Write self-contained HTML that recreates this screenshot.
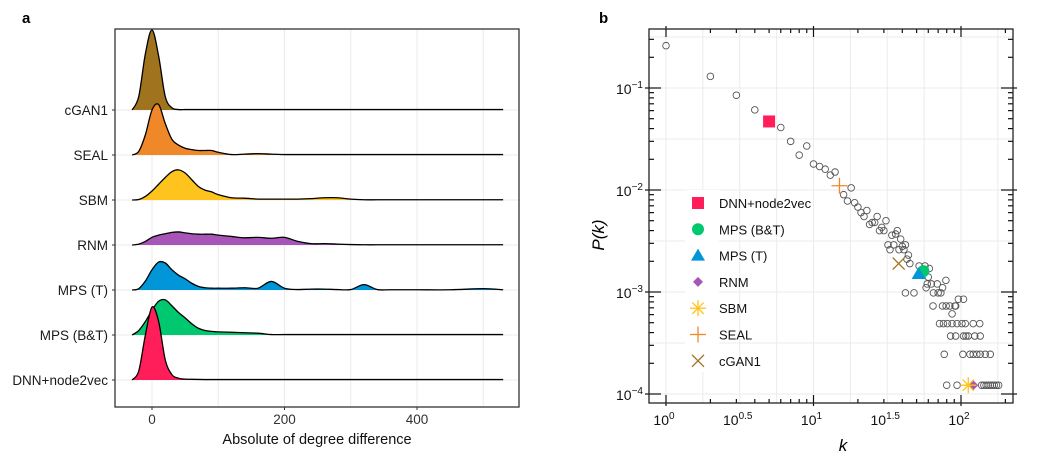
<!DOCTYPE html>
<html><head><meta charset="utf-8"><style>
html,body{margin:0;padding:0;background:#fff;width:1060px;height:460px;overflow:hidden}
svg text{font-family:"Liberation Sans",sans-serif}
</style></head><body>
<svg id="s" width="1060" height="460" xmlns="http://www.w3.org/2000/svg"></svg>
<script>
// ---------- Panel a data ----------
const ridgeNames = ["cGAN1","SEAL","SBM","RNM","MPS (T)","MPS (B&T)","DNN+node2vec"];
const ridgeColors = ["#a0731e","#f0882a","#ffc31e","#a855b8","#0096d8","#00c86e","#ff1e5a"];
const gridX = [-30,-20,-10,0,10,20,30,40,50,60,70,80,90,100,120,140,160,180,200,220,240,260,280,300,320,340,360,400,450,500,530];
const dCGAN1 = [0,0.3,1.25,1.78,1.2,0.3,0.05,0.01,0.01,0.01,0.01,0.01,0.01,0.01,0.01,0.01,0.01,0.01,0.01,0.01,0.01,0.01,0.01,0.01,0.01,0.01,0.01,0.01,0.01,0.01,0.01];
const dSEAL = [0,0.08,0.45,1.0,1.12,0.7,0.35,0.22,0.15,0.12,0.1,0.1,0.1,0.06,0.01,0.02,0.03,0.02,0.01,0.01,0.01,0.01,0.01,0.01,0.01,0.01,0.01,0.01,0.01,0.01,0.01];
const dSBM = [0,0.01,0.08,0.2,0.35,0.5,0.63,0.67,0.6,0.45,0.3,0.22,0.18,0.12,0.05,0.04,0.02,0.02,0.02,0.02,0.03,0.05,0.05,0.02,0.005,0.005,0.005,0.005,0.005,0.005,0.005];
const dRNM = [0,0.02,0.08,0.17,0.22,0.25,0.28,0.29,0.27,0.25,0.24,0.24,0.24,0.22,0.19,0.16,0.17,0.15,0.17,0.08,0.03,0.03,0.02,0.01,0.005,0.005,0.005,0.005,0.005,0.005,0.005];
const dMPST = [0,0.03,0.2,0.45,0.62,0.6,0.45,0.33,0.25,0.15,0.08,0.05,0.04,0.04,0.04,0.05,0.04,0.19,0.04,0.01,0.02,0.02,0.01,0.01,0.12,0.01,0.005,0.005,0.005,0.03,0.005];
const dMPSBT = [0,0.1,0.3,0.55,0.75,0.78,0.65,0.5,0.38,0.25,0.15,0.1,0.08,0.07,0.06,0.05,0.04,0.01,0.01,0.01,0.01,0.01,0.01,0.01,0.01,0.01,0.01,0.01,0.01,0.01,0.01];
const dDNN = [0,0.2,1.0,1.62,1.3,0.45,0.12,0.04,0.02,0.015,0.012,0.01,0.01,0.01,0.01,0.01,0.01,0.01,0.01,0.01,0.01,0.01,0.01,0.01,0.01,0.01,0.01,0.01,0.01,0.01,0.01];
const ridgeData = [dCGAN1,dSEAL,dSBM,dRNM,dMPST,dMPSBT,dDNN];
const xTicksA = [0,200,400];
const xGridA = [0,100,200,300,400,500];

// ---------- Panel b data ----------
const kVals = [1,2,3,4,6,7,8,9,10,11,12,13,14,16,17,18,19,20,21,22,23,24,25,26,27,28,29,30,31,32,33,34,35,36,37,38,39,40,41,42,43,44,45,42,48,52,57,61,59,63,69,75,58,60,65,70,73,79,96,104,64.6,74.9,79.3,84,91,92,87,71.5,76,80.9,87,94,101.5,107,121,134,85,92,104,108,112,124,135,77,103,115,121,128,135,146,158,80,94,138,143,148,153,158,163,168,174,180];
const pVals = [0.26,0.13,0.085,0.061,0.041,0.030,0.022,0.027,0.018,0.017,0.016,0.014,0.015,0.009,0.0078,0.0105,0.0075,0.0068,0.006,0.0055,0.0063,0.0046,0.0048,0.0048,0.0055,0.004,0.0043,0.004,0.005,0.0029,0.0026,0.0036,0.0029,0.0037,0.004,0.0026,0.0033,0.0028,0.0026,0.0029,0.0021,0.0023,0.0019,0.00098,0.00098,0.0018,0.0018,0.0017,0.0012,0.0012,0.0012,0.0011,0.0011,0.0014,0.00098,0.00098,0.00098,0.0013,0.00085,0.00085,0.00073,0.00073,0.00073,0.00073,0.00073,0.00073,0.00061,0.00049,0.00049,0.00049,0.00049,0.00049,0.00049,0.00049,0.00049,0.00049,0.00037,0.00037,0.00037,0.00037,0.00037,0.00037,0.00037,0.000245,0.000245,0.000245,0.000245,0.000245,0.000245,0.000245,0.000245,0.000122,0.000122,0.000122,0.000122,0.000122,0.000122,0.000122,0.000122,0.000122,0.000122,0.000122];
const markNames = ["DNN+node2vec","MPS (B&T)","MPS (T)","RNM","SBM","SEAL","cGAN1"];
const markK = [5,55.6,51.6,121,112,15,37.8];
const markP = [0.047,0.0016,0.0015,0.000122,0.000122,0.011,0.0019];

const NS="http://www.w3.org/2000/svg";
const svg=document.getElementById('s');
function mk(tag,attrs,parent){const e=document.createElementNS(NS,tag);for(const k in attrs)e.setAttribute(k,attrs[k]);(parent||svg).appendChild(e);return e;}

// ===== Panel A =====
const ax={l:115,r:519,t:29,b:407};
const xA=v=>152+v*(132.5/200);
const baseY=i=>110+i*45;
const hA=v=>v*45;
const gA=mk('g',{});


for(const v of xGridA){const l=mk('line',{x1:xA(v),x2:xA(v),y1:ax.t,y2:ax.b,stroke:'#ebebeb','stroke-width':1},gA);
}
ridgeNames.forEach((n,i)=>{const l=mk('line',{x1:ax.l,x2:ax.r,y1:baseY(i),y2:baseY(i),stroke:'#ebebeb','stroke-width':1},gA);
});
function smooth(pts){let d=`M${pts[0][0]},${pts[0][1]}`;for(let i=0;i<pts.length-1;i++){const p0=pts[Math.max(0,i-1)],p1=pts[i],p2=pts[i+1],p3=pts[Math.min(pts.length-1,i+2)];
const c1x=p1[0]+(p2[0]-p0[0])/6,c1y=p1[1]+(p2[1]-p0[1])/6,c2x=p2[0]-(p3[0]-p1[0])/6,c2y=p2[1]-(p3[1]-p1[1])/6;
d+=` C${c1x.toFixed(2)},${c1y.toFixed(2)} ${c2x.toFixed(2)},${c2y.toFixed(2)} ${p2[0].toFixed(2)},${p2[1].toFixed(2)}`;}return d;}
ridgeNames.forEach((n,i)=>{
  const b=baseY(i);
  const pts=gridX.map((x,j)=>[xA(x),Math.min(b,b-hA(ridgeData[i][j]))]);
  const d=smooth(pts);
  const f=mk('path',{d:d+` L${xA(gridX[gridX.length-1])},${b} L${xA(gridX[0])},${b} Z`,fill:ridgeColors[i],stroke:'none'},gA);
  
  
  const o=mk('path',{d:d,fill:'none',stroke:'#000','stroke-width':1.3},gA);
  
  
  const t=mk('text',{x:108,y:b+5,'text-anchor':'end','font-size':13.5,fill:'#1a1a1a'},gA);t.textContent=n;
  
  mk('line',{x1:ax.l-3,x2:ax.l,y1:b,y2:b,stroke:'#333'},gA);
});
const boxA=mk('rect',{x:ax.l,y:ax.t,width:ax.r-ax.l,height:ax.b-ax.t,fill:'none',stroke:'#333','stroke-width':1.3},gA);

for(const v of xTicksA){mk('line',{x1:xA(v),x2:xA(v),y1:ax.b,y2:ax.b+3,stroke:'#333'},gA);
const t=mk('text',{x:xA(v),y:424,'text-anchor':'middle','font-size':13.5,fill:'#333'},gA);t.textContent=v;
}
let t=mk('text',{x:317,y:444,'text-anchor':'middle','font-size':14.5,fill:'#111'},gA);t.textContent='Absolute of degree difference';

t=mk('text',{x:22,y:23,'font-size':15,'font-weight':'bold'});t.textContent='a';


// ===== Panel B =====
const bx={l:649,r:1013,t:29,b:403};
const xB=k=>666+Math.log10(k)*147.5;
const yB=p=>88+(-1-Math.log10(p))*102;
const gB=mk('g',{});


for(let e=0;e<=2.25;e+=0.25){if(xB(10**e)>bx.r)break;const l=mk('line',{x1:xB(10**e),x2:xB(10**e),y1:bx.t,y2:bx.b,stroke:'#ebebeb'},gB);
}
for(let e=-4;e<=-0.5;e+=0.5){const l=mk('line',{x1:bx.l,x2:bx.r,y1:yB(10**e),y2:yB(10**e),stroke:'#ebebeb'},gB);
}
const lg=mk('rect',{x:685,y:190,width:34,height:182,fill:'#fff'},gB);

kVals.forEach((k,i)=>{const c=mk('circle',{cx:xB(k),cy:yB(pVals[i]),r:3.3,fill:'none',stroke:'#555','stroke-width':0.9},gB);
});
function marker(i,x,y,parent){
  const g=mk('g',{},parent);
  if(i===0)mk('rect',{x:x-6,y:y-6,width:12,height:12,fill:'#ff1e5a'},g);
  else if(i===1)mk('circle',{cx:x,cy:y,r:6,fill:'#00c86e'},g);
  else if(i===2)mk('polygon',{points:`${x},${y-7} ${x+7},${y+5} ${x-7},${y+5}`,fill:'#0096d8'},g);
  else if(i===3)mk('polygon',{points:`${x},${y-5} ${x+5},${y} ${x},${y+5} ${x-5},${y}`,fill:'#a855b8'},g);
  else if(i===4){for(let a=0;a<4;a++){const an=a*Math.PI/4;mk('line',{x1:x-8*Math.cos(an),y1:y-8*Math.sin(an),x2:x+8*Math.cos(an),y2:y+8*Math.sin(an),stroke:'#ffc31e','stroke-width':1.3},g);}}
  else if(i===5){mk('line',{x1:x-8,x2:x+8,y1:y,y2:y,stroke:'#f0882a','stroke-width':1.3},g);mk('line',{x1:x,x2:x,y1:y-8,y2:y+8,stroke:'#f0882a','stroke-width':1.3},g);}
  else {mk('line',{x1:x-6,x2:x+6,y1:y-6,y2:y+6,stroke:'#a0731e','stroke-width':1.3},g);mk('line',{x1:x-6,x2:x+6,y1:y+6,y2:y-6,stroke:'#a0731e','stroke-width':1.3},g);}
  return g;
}
markNames.forEach((n,i)=>{const g=marker(i,xB(markK[i]),yB(markP[i]),gB);

});
markNames.forEach((n,i)=>{const y=203+i*26.3;const g=marker(i,698,y,gB);

const tt=mk('text',{x:719,y:y+5,'font-size':13,fill:'#111'},gB);tt.textContent=n;
});
const tk=(x1,y1,x2,y2)=>mk('line',{x1,y1,x2,y2,stroke:'#111','stroke-width':1.2},gB);
for(let d=0;d<=2;d++)for(let m=1;m<=9;m++){const k=m*10**d;const x=xB(k);if(x<bx.l||x>bx.r)continue;
 const L=m===1?8:4;tk(x,bx.b+(m===1?3:0),x,bx.b-L);tk(x,bx.t-(m===1?3:0),x,bx.t+L);}
for(let d=-4;d<=-1;d++)for(let m=1;m<=9;m++){const p=m*10**d;const y=yB(p);if(y<bx.t||y>bx.b)continue;
 const L=m===1?12:5;tk(bx.l-(m===1?4:0),y,bx.l+L,y);tk(bx.r+(m===1?4:0),y,bx.r-L,y);}
const boxB=mk('rect',{x:bx.l,y:bx.t,width:bx.r-bx.l,height:bx.b-bx.t,fill:'none',stroke:'#222','stroke-width':1.3},gB);

const xTickE=["0","0.5","1","1.5","2"];
xTickE.forEach(e=>{const tt=mk('text',{x:xB(10**parseFloat(e))-2,y:425,'text-anchor':'middle','font-size':14,fill:'#111'},gB);
tt.innerHTML='10<tspan dy="-6" font-size="10">'+e+'</tspan>';
});
const yTickE=["−1","−2","−3","−4"];
yTickE.forEach((e,i)=>{const tt=mk('text',{x:643,y:yB(10**(-1-i))+6,'text-anchor':'end','font-size':14,fill:'#111'},gB);
tt.innerHTML='10<tspan dy="-6" font-size="10">'+e+'</tspan>';
});
t=mk('text',{x:843,y:451,'text-anchor':'middle','font-size':17,'font-style':'italic','font-family':'Liberation Serif, serif'},gB);t.textContent='k';

t=mk('text',{x:604,y:235,'text-anchor':'middle','font-size':17,'font-style':'italic','font-family':'Liberation Serif, serif',transform:'rotate(-90 604 235)'},gB);t.textContent='P(k)';

t=mk('text',{x:599,y:23,'font-size':15,'font-weight':'bold'});t.textContent='b';

</script>
</body></html>
